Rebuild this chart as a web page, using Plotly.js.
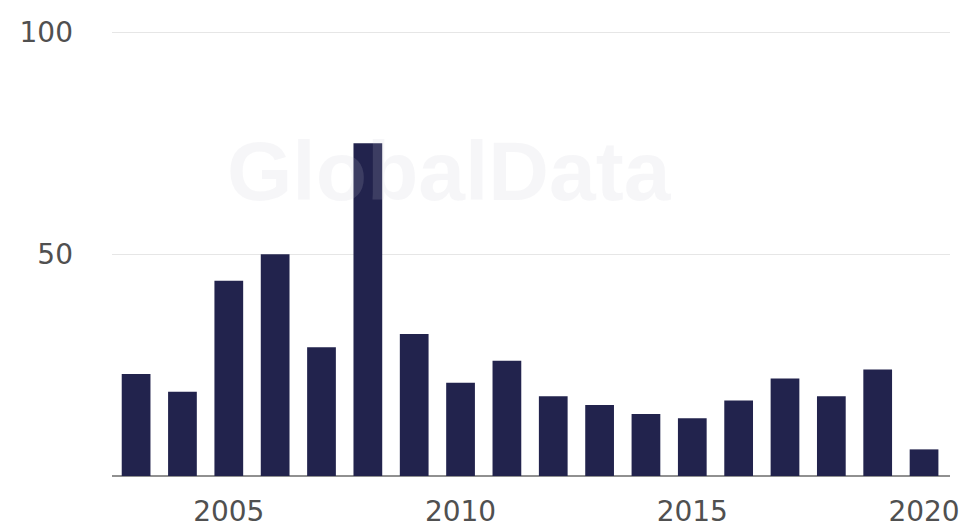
<!DOCTYPE html>
<html>
<head>
<meta charset="utf-8">
<script src="https://cdn.plot.ly/plotly-3.0.1.min.js"></script>
<style>html,body{margin:0;padding:0;background:#fff;}#chart{width:973px;height:527px;}</style>
</head>
<body>
<div id="chart"></div>
<script>
const years = [2003,2004,2005,2006,2007,2008,2009,2010,2011,2012,2013,2014,2015,2016,2017,2018,2019,2020];
const values = [23,19,44,50,29,75,32,21,26,18,16,14,13,17,22,18,24,6];
const xTicks = [2005,2010,2015,2020];
const yTicks = [50,100];
const watermark = "GlobalData";

const trace = {
  type: 'bar',
  x: years,
  y: values,
  width: 0.62,
  marker: {color: '#22234d'},
  hoverinfo: 'x+y'
};

const layout = {
  width: 973, height: 527,
  margin: {l: 112, r: 23, t: 31, b: 51},
  paper_bgcolor: '#fff', plot_bgcolor: '#fff',
  showlegend: false,
  font: {family: 'DejaVu Sans, Arial, sans-serif', color: '#555'},
  xaxis: {
    range: [2002.48, 2020.56],
    tickvals: xTicks, ticktext: xTicks.map(String),
    showgrid: false, zeroline: false, showline: false,
    ticks: '', tickfont: {size: 28, color: '#505050'},
    ticklabelstandoff: 16
  },
  yaxis: {
    range: [0, 100.3],
    tickvals: yTicks, ticktext: yTicks.map(String),
    showgrid: true, gridcolor: '#e6e6e6', gridwidth: 1,
    zeroline: true, zerolinecolor: '#909090', zerolinewidth: 1.5,
    showline: false, ticks: '',
    tickfont: {size: 28, color: '#505050'},
    ticklabelstandoff: 38
  },
  annotations: [{
    text: watermark, xref: 'paper', yref: 'paper',
    x: 0.403, y: 0.685, xanchor: 'center', yanchor: 'middle', showarrow: false,
    font: {family: 'Liberation Sans, Arial, sans-serif', size: 84, color: 'rgba(200,200,210,0.16)', weight: 'bold'}
  }]
};

Plotly.newPlot('chart', [trace], layout, {displayModeBar: false, staticPlot: true});
</script>
</body>
</html>
